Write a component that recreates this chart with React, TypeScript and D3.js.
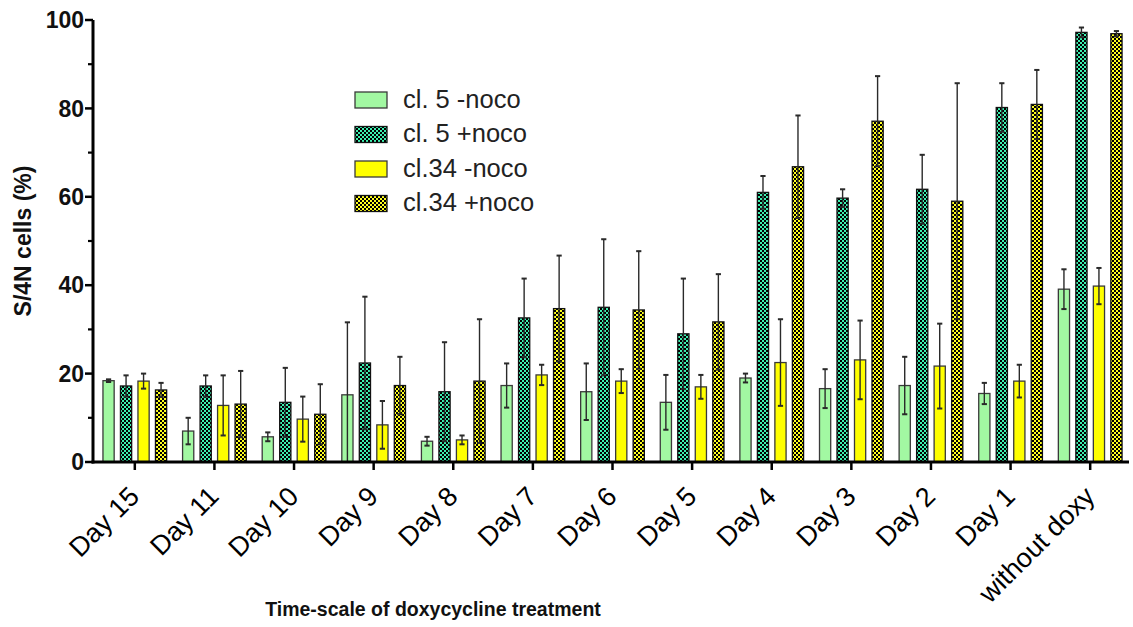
import React from "react";
import * as d3 from "d3";

const categories = ["Day 15", "Day 11", "Day 10", "Day 9", "Day 8", "Day 7", "Day 6", "Day 5", "Day 4", "Day 3", "Day 2", "Day 1", "without doxy"];
const seriesNames = ["cl. 5 -noco", "cl. 5 +noco", "cl.34 -noco", "cl.34 +noco"];
const cl5Minus = [18.4, 7.0, 5.7, 15.2, 4.7, 17.3, 15.9, 13.5, 19.0, 16.6, 17.3, 15.5, 39.1];
const cl5MinusErr = [0.3, 3.0, 1.0, 16.4, 1.0, 5.0, 6.4, 6.2, 1.0, 4.4, 6.5, 2.4, 4.5];
const cl5Plus = [17.2, 17.2, 13.5, 22.4, 15.9, 32.6, 35.0, 29.0, 61.0, 59.7, 61.7, 80.2, 97.2];
const cl5PlusErr = [2.4, 2.4, 7.8, 15.0, 11.2, 8.9, 15.4, 12.5, 3.7, 2.0, 7.8, 5.5, 1.1];
const cl34Minus = [18.3, 12.8, 9.7, 8.4, 5.0, 19.7, 18.3, 17.0, 22.5, 23.1, 21.7, 18.3, 39.8];
const cl34MinusErr = [1.7, 6.8, 5.1, 5.4, 1.0, 2.3, 2.7, 2.7, 9.8, 8.9, 9.6, 3.7, 4.1];
const cl34Plus = [16.3, 13.1, 10.8, 17.3, 18.3, 34.7, 34.4, 31.7, 66.8, 77.1, 59.0, 80.9, 96.9];
const cl34PlusErr = [1.6, 7.5, 6.8, 6.5, 14.0, 12.0, 13.3, 10.8, 11.6, 10.2, 26.7, 7.8, 0.6];
const yMajorTicks = [0, 20, 40, 60, 80, 100];
const yMinorTicks = [10, 30, 50, 70, 90];

const seriesValues = [cl5Minus, cl5Plus, cl34Minus, cl34Plus];
const seriesErrors = [cl5MinusErr, cl5PlusErr, cl34MinusErr, cl34PlusErr];
const seriesFills = ["#a2f8a2", "url(#chkGreen)", "#ffff00", "url(#chkYellow)"];

const W = 1133;
const H = 627;
const FONT = "Arial, 'Liberation Sans', Helvetica, sans-serif";

export default function App() {
  const x = d3.scaleBand<string>().domain(categories).range([95, 1130]).paddingInner(0.2).paddingOuter(0.1);
  const xs = d3.scaleBand<string>().domain(seriesNames).range([0, x.bandwidth()]).paddingInner(0.36);
  const y = d3.scaleLinear().domain([0, 100]).range([462, 20]);
  const axisX = 93;
  const cap = 2.6;

  return (
    <svg width={W} height={H} style={{ position: "absolute", left: 0, top: 0, background: "#fff" }} fontFamily={FONT}>
      <defs>
        <pattern id="chkGreen" width={4} height={4} patternUnits="userSpaceOnUse">
          <rect width={4} height={4} fill="#3cf0b0" />
          <rect x={0} y={0} width={2} height={2} fill="#000" />
          <rect x={2} y={2} width={2} height={2} fill="#000" />
        </pattern>
        <pattern id="chkYellow" width={4} height={4} patternUnits="userSpaceOnUse">
          <rect width={4} height={4} fill="#ffff20" />
          <rect x={0} y={0} width={2} height={2} fill="#000" />
          <rect x={2} y={2} width={2} height={2} fill="#000" />
        </pattern>
      </defs>
      <rect width={W} height={H} fill="#fff" />

      {/* bars */}
      {seriesNames.map((s, si) => (
        <g key={s}>
          {categories.map((c, ci) => {
            const v = seriesValues[si][ci];
            const bx = (x(c) ?? 0) + (xs(s) ?? 0);
            const bw = xs.bandwidth();
            return (
              <rect key={c} x={bx} y={y(v)} width={bw} height={y(0) - y(v)} fill={seriesFills[si]}
                stroke={si % 2 === 1 ? "#111" : "#3a3a3a"} strokeWidth={1.3} />
            );
          })}
        </g>
      ))}

      {/* error bars */}
      {seriesNames.map((s, si) => (
        <g key={"e" + s} stroke="#2a2a2a" strokeWidth={1.4} fill="none">
          {categories.map((c, ci) => {
            const v = seriesValues[si][ci];
            const e = seriesErrors[si][ci];
            const cx = (x(c) ?? 0) + (xs(s) ?? 0) + xs.bandwidth() / 2;
            const y1 = y(v + e);
            const y2 = y(Math.max(0, v - e));
            return (
              <g key={c}>
                <line x1={cx} x2={cx} y1={y1} y2={y2} />
                <line x1={cx - cap} x2={cx + cap} y1={y1} y2={y1} strokeWidth={2} />
                <line x1={cx - cap} x2={cx + cap} y1={y2} y2={y2} strokeWidth={2} />
              </g>
            );
          })}
        </g>
      ))}

      {/* y axis */}
      <line x1={axisX} x2={axisX} y1={y(100)} y2={y(0) + 1.5} stroke="#000" strokeWidth={3} />
      {yMajorTicks.map((t) => (
        <g key={t}>
          <line x1={axisX - 8} x2={axisX} y1={y(t)} y2={y(t)} stroke="#000" strokeWidth={2.5} />
          <text x={axisX - 9} y={y(t)} dy="0.36em" textAnchor="end" fontSize={23} fontWeight="bold" fill="#111">{t}</text>
        </g>
      ))}
      {yMinorTicks.map((t) => (
        <line key={t} x1={axisX - 5} x2={axisX} y1={y(t)} y2={y(t)} stroke="#000" strokeWidth={2.2} />
      ))}
      <text transform={`translate(31,${(y(0) + y(100)) / 2}) rotate(-90)`} textAnchor="middle" fontSize={23} fontWeight="bold" fill="#111">S/4N cells (%)</text>

      {/* x axis */}
      <line x1={axisX - 1.5} x2={1129} y1={y(0)} y2={y(0)} stroke="#000" strokeWidth={3} />
      {categories.map((c) => {
        const cx = (x(c) ?? 0) + x.bandwidth() / 2;
        return (
          <g key={c}>
            <line x1={cx} x2={cx} y1={y(0)} y2={y(0) + 8} stroke="#000" strokeWidth={2.5} />
            <text transform={`translate(${cx + 6},${y(0) + 36}) rotate(-45)`} textAnchor="end" fontSize={27} fill="#000">{c}</text>
          </g>
        );
      })}
      <text x={433} y={616} textAnchor="middle" fontSize={19.5} fontWeight="bold" fill="#111">Time-scale of doxycycline treatment</text>

      {/* legend */}
      {seriesNames.map((s, si) => {
        const cy = 100 + si * 34.5;
        return (
          <g key={"l" + s}>
            <rect x={355} y={cy - 8} width={32} height={16} fill={seriesFills[si]} stroke={si % 2 === 1 ? "#111" : "#3a3a3a"} strokeWidth={1.3} />
            <text x={403} y={cy + 7.5} fontSize={25.5} fill="#222">{s}</text>
          </g>
        );
      })}
    </svg>
  );
}
